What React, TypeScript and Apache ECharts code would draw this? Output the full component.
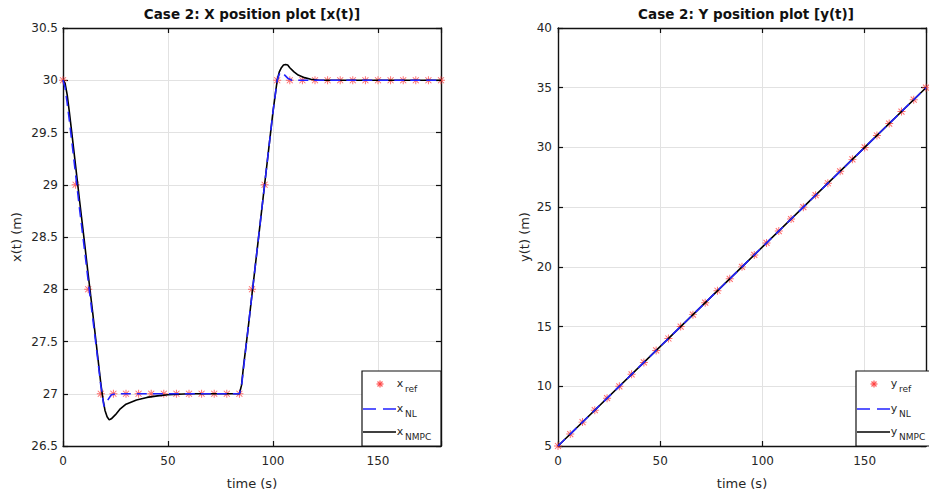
import React, { useEffect, useRef } from "react";
import * as echarts from "echarts";

// Reference trajectory samples (every 6 s)
const tRef = [0, 6, 12, 18, 24, 30, 36, 42, 48, 54, 60, 66, 72, 78, 84, 90, 96, 102, 108, 114, 120, 126, 132, 138, 144, 150, 156, 162, 168, 174, 180];
const xRef = [30, 29, 28, 27, 27, 27, 27, 27, 27, 27, 27, 27, 27, 27, 27, 28, 29, 30, 30, 30, 30, 30, 30, 30, 30, 30, 30, 30, 30, 30, 30];
const yRef = [5, 6, 7, 8, 9, 10, 11, 12, 13, 14, 15, 16, 17, 18, 19, 20, 21, 22, 23, 24, 25, 26, 27, 28, 29, 30, 31, 32, 33, 34, 35];

// Nonlinear-model response, x(t)
const tXNL = [0, 1, 2, 3, 4, 6, 8, 10, 12, 14, 16, 18, 19.5, 21, 23, 25, 84, 85, 86, 88, 90, 92, 94, 96, 98, 100, 102, 103, 104, 105, 107, 109, 180];
const xNL = [30, 29.93, 29.78, 29.62, 29.45, 29.1, 28.75, 28.42, 28.08, 27.75, 27.42, 27.08, 26.88, 26.93, 26.99, 27, 27, 27.07, 27.25, 27.6, 27.95, 28.3, 28.65, 29.0, 29.35, 29.7, 30.0, 30.06, 30.08, 30.06, 30.02, 30, 30];

// NMPC response, x(t)
const tXNMPC = [0, 1, 2, 3, 4, 6, 8, 10, 12, 14, 16, 18, 19, 20, 21, 22, 23, 25, 27, 30, 35, 40, 45, 50, 60, 84, 85, 86, 88, 90, 92, 94, 96, 98, 100, 102, 103, 104, 105, 106, 107, 108, 110, 112, 115, 118, 122, 180];
const xNMPC = [30, 29.97, 29.86, 29.7, 29.53, 29.18, 28.83, 28.49, 28.14, 27.8, 27.45, 27.1, 26.95, 26.84, 26.78, 26.75, 26.76, 26.8, 26.85, 26.9, 26.94, 26.965, 26.98, 26.99, 27, 27, 27.08, 27.27, 27.6, 27.95, 28.3, 28.65, 29.0, 29.35, 29.7, 30.0, 30.08, 30.12, 30.145, 30.15, 30.145, 30.12, 30.08, 30.05, 30.025, 30.01, 30, 30];

// Responses for y(t)
const tY = [0, 60, 90, 150, 180];
const yNL = [5, 15, 20, 30, 35];
const yNMPC = [5, 15, 20, 30, 35];

// Axis ticks
const timeTicks = [0, 50, 100, 150];
const xPosTicks = [26.5, 27, 27.5, 28, 28.5, 29, 29.5, 30, 30.5];
const yPosTicks = [5, 10, 15, 20, 25, 30, 35, 40];

const FONT = "DejaVu Sans";
const INK = "#262626";
const AXIS = "#111111";
const GRIDLINE = "#e2e2e2";
const REF_RED = "#ff3b3b";
const NL_BLUE = "#2222ff";

const STAR =
  "path://M4.4,0h1.2v10h-1.2z M0,4.4h10v1.2h-10z M0.8,1.7L1.7,0.8L9.2,8.3L8.3,9.2z M8.3,0.8L9.2,1.7L1.7,9.2L0.8,8.3z";

const pairs = (t: number[], v: number[]) => t.map((ti, i) => [ti, v[i]]);

function timeAxis(gridIndex: number) {
  return {
    type: "value",
    gridIndex,
    position: "bottom",
    min: timeTicks[0],
    max: 180,
    interval: 50,
    name: "time (s)",
    nameLocation: "middle",
    nameGap: 31,
    nameTextStyle: { fontFamily: FONT, fontSize: 13, color: INK },
    axisLine: { show: true, onZero: false, lineStyle: { color: AXIS, width: 1.4 } },
    axisTick: { show: true, inside: true, length: 5, lineStyle: { color: AXIS, width: 1.2 } },
    axisLabel: {
      margin: 9,
      fontFamily: FONT,
      fontSize: 12,
      color: INK,
      formatter: (v: number) => (timeTicks.includes(v) ? String(v) : ""),
    },
    splitLine: { show: true, lineStyle: { color: GRIDLINE, width: 1 } },
  };
}

function topAxis(gridIndex: number) {
  return {
    type: "value",
    gridIndex,
    position: "top",
    min: timeTicks[0],
    max: 180,
    interval: 50,
    axisLine: { show: true, onZero: false, lineStyle: { color: AXIS, width: 1.4 } },
    axisTick: { show: true, inside: true, length: 5, lineStyle: { color: AXIS, width: 1.2 } },
    axisLabel: { show: false },
    splitLine: { show: false },
  };
}

function valueAxis(gridIndex: number, ticks: number[], name: string, gap: number, margin: number) {
  return {
    type: "value",
    gridIndex,
    position: "left",
    min: ticks[0],
    max: ticks[ticks.length - 1],
    interval: ticks[1] - ticks[0],
    name,
    nameLocation: "middle",
    nameRotate: 90,
    nameGap: gap,
    nameTextStyle: { fontFamily: FONT, fontSize: 13, color: INK },
    axisLine: { show: true, onZero: false, lineStyle: { color: AXIS, width: 1.4 } },
    axisTick: { show: true, inside: true, length: 5, lineStyle: { color: AXIS, width: 1.2 } },
    axisLabel: { margin, fontFamily: FONT, fontSize: 12, color: INK },
    splitLine: { show: true, lineStyle: { color: GRIDLINE, width: 1 } },
  };
}

function rightAxis(gridIndex: number, ticks: number[]) {
  return {
    type: "value",
    gridIndex,
    position: "right",
    min: ticks[0],
    max: ticks[ticks.length - 1],
    interval: ticks[1] - ticks[0],
    axisLine: { show: true, onZero: false, lineStyle: { color: AXIS, width: 1.4 } },
    axisTick: { show: true, inside: true, length: 5, lineStyle: { color: AXIS, width: 1.2 } },
    axisLabel: { show: false },
    splitLine: { show: false },
  };
}

// Legend drawn inside the lower-right corner of a plot
function legendBox(left: number, top: number, width: number, letter: string) {
  const rowY = [top + 13, top + 38, top + 61];
  const mx = left + 18;
  const r = 3.5;
  const d = 2.5;
  const starStyle = { stroke: REF_RED, lineWidth: 1.3, opacity: 0.8 };
  const txt = { fontFamily: FONT, fill: INK };
  return [
    {
      type: "rect",
      shape: { x: left, y: top, width, height: 446 - top },
      style: { fill: "#ffffff", stroke: AXIS, lineWidth: 1.2 },
      z: 100,
    },
    { type: "line", shape: { x1: mx - r, y1: rowY[0], x2: mx + r, y2: rowY[0] }, style: starStyle, z: 101 },
    { type: "line", shape: { x1: mx, y1: rowY[0] - r, x2: mx, y2: rowY[0] + r }, style: starStyle, z: 101 },
    { type: "line", shape: { x1: mx - d, y1: rowY[0] - d, x2: mx + d, y2: rowY[0] + d }, style: starStyle, z: 101 },
    { type: "line", shape: { x1: mx - d, y1: rowY[0] + d, x2: mx + d, y2: rowY[0] - d }, style: starStyle, z: 101 },
    {
      type: "line",
      shape: { x1: left + 1, y1: rowY[1], x2: left + 34, y2: rowY[1] },
      style: { stroke: NL_BLUE, lineWidth: 1.6, lineDash: [13, 7] },
      z: 101,
    },
    {
      type: "line",
      shape: { x1: left + 1, y1: rowY[2], x2: left + 34, y2: rowY[2] },
      style: { stroke: "#000000", lineWidth: 1.6 },
      z: 101,
    },
    ...["ref", "NL", "NMPC"].flatMap((sub, i) => [
      {
        type: "text",
        x: left + 38,
        y: rowY[i] - 1,
        style: { ...txt, text: letter, fontSize: 11, textAlign: "center", textVerticalAlign: "middle" },
        z: 101,
      },
      {
        type: "text",
        x: left + 43,
        y: rowY[i] + 5,
        style: { ...txt, text: sub, fontSize: 9, textAlign: "left", textVerticalAlign: "middle" },
        z: 101,
      },
    ]),
  ];
}

export default function App() {
  const ref = useRef<HTMLDivElement>(null);

  useEffect(() => {
    if (!ref.current) return;
    const chart = echarts.init(ref.current, undefined, { renderer: "svg" });

    const refSeries = (xi: number, yi: number, vals: number[]) => ({
      type: "scatter",
      xAxisIndex: xi,
      yAxisIndex: yi,
      data: pairs(tRef, vals),
      symbol: STAR,
      symbolSize: 8,
      itemStyle: { color: REF_RED, opacity: 0.75 },
      z: 2,
    });
    const lineSeries = (xi: number, yi: number, t: number[], v: number[], color: string, dashed: boolean, z: number) => ({
      type: "line",
      xAxisIndex: xi,
      yAxisIndex: yi,
      data: pairs(t, v),
      showSymbol: false,
      smooth: false,
      lineStyle: { color, width: 1.6, type: dashed ? [10, 6] : "solid" },
      z,
    });

    chart.setOption({
      animation: false,
      backgroundColor: "#ffffff",
      title: [
        {
          text: "Case 2: X position plot [x(t)]",
          left: 252,
          top: 7,
          padding: 0,
          textAlign: "center",
          textStyle: { fontFamily: FONT, fontSize: 13.5, fontWeight: "bold", color: "#111111" },
        },
        {
          text: "Case 2: Y position plot [y(t)]",
          left: 746,
          top: 7,
          padding: 0,
          textAlign: "center",
          textStyle: { fontFamily: FONT, fontSize: 13.5, fontWeight: "bold", color: "#111111" },
        },
      ],
      grid: [
        { left: 63, top: 28, width: 378, height: 418 },
        { left: 558, top: 28, width: 373, height: 418 },
      ],
      xAxis: [timeAxis(0), topAxis(0), timeAxis(1), topAxis(1)],
      yAxis: [
        valueAxis(0, xPosTicks, "x(t) (m)", 40, 5),
        rightAxis(0, xPosTicks),
        valueAxis(1, yPosTicks, "y(t) (m)", 27, 6),
        rightAxis(1, yPosTicks),
      ],
      series: [
        refSeries(0, 0, xRef),
        lineSeries(0, 0, tXNMPC, xNMPC, "#000000", false, 3),
        lineSeries(0, 0, tXNL, xNL, NL_BLUE, true, 4),
        refSeries(2, 2, yRef),
        lineSeries(2, 2, tY, yNMPC, "#000000", false, 3),
        lineSeries(2, 2, tY, yNL, NL_BLUE, true, 4),
      ],
      graphic: [...legendBox(362, 371, 79, "x"), ...legendBox(856, 371, 75, "y")],
    });

    return () => chart.dispose();
  }, []);

  return (
    <div
      ref={ref}
      style={{ position: "fixed", left: 0, top: 0, width: 929, height: 497, background: "#fff" }}
    />
  );
}
